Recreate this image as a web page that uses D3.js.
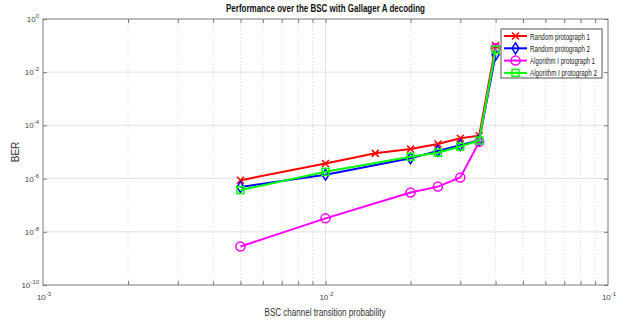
<!DOCTYPE html>
<html>
<head>
<meta charset="utf-8">
<script src="https://cdn.jsdelivr.net/npm/d3@7"></script>
<style>
  body { margin: 0; background: #fff; }
  svg { display: block; font-family: "Liberation Sans Narrow", "Liberation Sans", Arial, sans-serif; }
</style>
</head>
<body>
<svg id="chart" width="630" height="324"></svg>
<script>
// data
const pRed = [0.005, 0.01, 0.015, 0.02, 0.025, 0.03, 0.035, 0.04];
const berRed = [8.7e-7, 3.7e-6, 8.9e-6, 1.3e-5, 2.0e-5, 3.3e-5, 4.1e-5, 0.1];

const pOther = [0.005, 0.01, 0.02, 0.025, 0.03, 0.035, 0.04];
const berBlue = [4.8e-7, 1.4e-6, 5.8e-6, 1.1e-5, 1.8e-5, 2.8e-5, 0.045];
const berMagenta = [2.8e-9, 3.2e-8, 3.0e-7, 5.0e-7, 1.1e-6, 2.4e-5, 0.08];
const berGreen = [3.7e-7, 1.8e-6, 6.6e-6, 9.4e-6, 1.6e-5, 2.7e-5, 0.07];

const seriesNames = ["Random protograph 1", "Random protograph 2", "Algorithm I protograph 1", "Algorithm I protograph 2"];
const seriesColors = ["#ff0000", "#0000ff", "#ff00ff", "#00ff00"];
const seriesMarkers = ["x", "diamond", "circle", "square"];

const xTickExps = [-3, -2, -1];
const yTickExps = [0, -2, -4, -6, -8, -10];

const series = [
  { x: pRed, y: berRed },
  { x: pOther, y: berBlue },
  { x: pOther, y: berMagenta },
  { x: pOther, y: berGreen }
].map((s, i) => ({ ...s, name: seriesNames[i], color: seriesColors[i], marker: seriesMarkers[i] }));

const margin = { top: 19, right: 22, bottom: 39, left: 43 };
const W = 630, H = 324;
const w = W - margin.left - margin.right;
const h = H - margin.top - margin.bottom;

const svg = d3.select("#chart");
const g = svg.append("g").attr("transform", `translate(${margin.left},${margin.top})`);

const x = d3.scaleLog().domain([1e-3, 1e-1]).range([0, w]);
const y = d3.scaleLog().domain([1e-10, 1]).range([h, 0]);

// minor x values
const xMinor = [];
[1e-3, 1e-2].forEach(d => { for (let k = 2; k <= 9; k++) xMinor.push(d * k); });

// grid
g.append("g").selectAll("line").data(xMinor).enter().append("line")
  .attr("x1", d => x(d)).attr("x2", d => x(d)).attr("y1", 0).attr("y2", h)
  .attr("stroke", "#cfcfcf").attr("stroke-width", 0.8).attr("stroke-dasharray", "1,2");
g.append("g").selectAll("line").data([1e-2]).enter().append("line")
  .attr("x1", d => x(d)).attr("x2", d => x(d)).attr("y1", 0).attr("y2", h)
  .attr("stroke", "#e2e2e2").attr("stroke-width", 1);
g.append("g").selectAll("line").data(yTickExps.slice(1, -1)).enter().append("line")
  .attr("x1", 0).attr("x2", w).attr("y1", d => y(Math.pow(10, d))).attr("y2", d => y(Math.pow(10, d)))
  .attr("stroke", "#e2e2e2").attr("stroke-width", 1);

// axes ticks (inward), no labels
const axisColor = "#7a7a7a";
const xTickVals = xMinor.concat([1e-2]);
function styleAxis(sel) {
  sel.select(".domain").remove();
  sel.selectAll("line").attr("stroke", axisColor);
  sel.selectAll("text").remove();
}
g.append("g").attr("transform", `translate(0,${h})`)
  .call(d3.axisBottom(x).tickValues(xTickVals).tickSize(-4).tickFormat(""))
  .call(styleAxis);
g.append("g")
  .call(d3.axisTop(x).tickValues(xTickVals).tickSize(-4).tickFormat(""))
  .call(styleAxis);
const yTickVals = yTickExps.map(e => Math.pow(10, e));
g.append("g")
  .call(d3.axisLeft(y).tickValues(yTickVals).tickSize(-4).tickFormat(""))
  .call(styleAxis);
g.append("g").attr("transform", `translate(${w},0)`)
  .call(d3.axisRight(y).tickValues(yTickVals).tickSize(-4).tickFormat(""))
  .call(styleAxis);

g.append("rect").attr("width", w).attr("height", h)
  .attr("fill", "none").attr("stroke", axisColor).attr("stroke-width", 1);

// tick labels with superscript
function powLabel(sel, e) {
  sel.append("tspan").text("10");
  sel.append("tspan").attr("dy", -4).attr("font-size", 6).text(e);
}
yTickExps.forEach(e => {
  const t = g.append("text").attr("x", -4).attr("y", y(Math.pow(10, e)) + 3)
    .attr("text-anchor", "end").attr("font-size", 8).attr("fill", "#444");
  powLabel(t, e);
});
xTickExps.forEach(e => {
  const t = g.append("text").attr("x", x(Math.pow(10, e)) + 1).attr("y", h + 15)
    .attr("text-anchor", "middle").attr("font-size", 8).attr("fill", "#444");
  powLabel(t, e);
});

// axis titles (condensed to the narrow look of the original)
g.append("text").attr("x", w / 2 - 61).attr("y", h + 31)
  .attr("font-size", 10).attr("fill", "#333")
  .attr("textLength", 121).attr("lengthAdjust", "spacingAndGlyphs")
  .text("BSC channel transition probability");
svg.append("text").attr("transform", `translate(19,${margin.top + h / 2}) rotate(-90)`)
  .attr("text-anchor", "middle").attr("font-size", 10).attr("fill", "#333")
  .style("font-family", "'Liberation Sans', Arial, sans-serif").text("BER");
svg.append("text").attr("x", 226).attr("y", 12)
  .attr("font-size", 10.5).attr("font-weight", "bold").attr("fill", "#111")
  .attr("textLength", 199).attr("lengthAdjust", "spacingAndGlyphs")
  .text("Performance over the BSC with Gallager A decoding");

// markers
function drawMarker(sel, type, color) {
  if (type === "x") {
    sel.append("path").attr("d", "M-3.5,-3.5L3.5,3.5M-3.5,3.5L3.5,-3.5")
      .attr("stroke", color).attr("stroke-width", 1.5).attr("fill", "none");
  } else if (type === "diamond") {
    sel.append("path").attr("d", "M0,-5.5L3.5,0L0,5.5L-3.5,0Z")
      .attr("stroke", color).attr("stroke-width", 1.5).attr("fill", "none");
  } else if (type === "circle") {
    sel.append("circle").attr("r", 4.5)
      .attr("stroke", color).attr("stroke-width", 1.5).attr("fill", "none");
  } else {
    sel.append("rect").attr("x", -3.5).attr("y", -3.5).attr("width", 7).attr("height", 7)
      .attr("stroke", color).attr("stroke-width", 1.5).attr("fill", "none");
  }
}

const line = d3.line().x(d => x(d[0])).y(d => y(d[1]));

const plot = g.append("g");
series.forEach(s => {
  const pts = s.x.map((v, i) => [v, s.y[i]]);
  plot.append("path").datum(pts).attr("d", line)
    .attr("fill", "none").attr("stroke", s.color).attr("stroke-width", 2);
  pts.forEach(p => {
    const m = plot.append("g").attr("transform", `translate(${x(p[0])},${y(p[1])})`);
    drawMarker(m, s.marker, s.color);
  });
});

// legend
const legendWidths = [60, 60, 65, 67];
const lg = svg.append("g").attr("transform", "translate(501,29)");
lg.append("rect").attr("width", 101).attr("height", 49)
  .attr("fill", "#fff").attr("stroke", "#555").attr("stroke-width", 1);
series.forEach((s, i) => {
  const row = lg.append("g").attr("transform", `translate(0,${7 + i * 12.3})`);
  row.append("line").attr("x1", 3).attr("x2", 26).attr("stroke", s.color).attr("stroke-width", 2);
  const m = row.append("g").attr("transform", "translate(14.5,0)");
  drawMarker(m, s.marker, s.color);
  row.append("text").attr("x", 29).attr("y", 3.5).attr("font-size", 9).attr("fill", "#222")
    .attr("textLength", legendWidths[i]).attr("lengthAdjust", "spacingAndGlyphs")
    .text(s.name);
});
</script>
</body>
</html>
